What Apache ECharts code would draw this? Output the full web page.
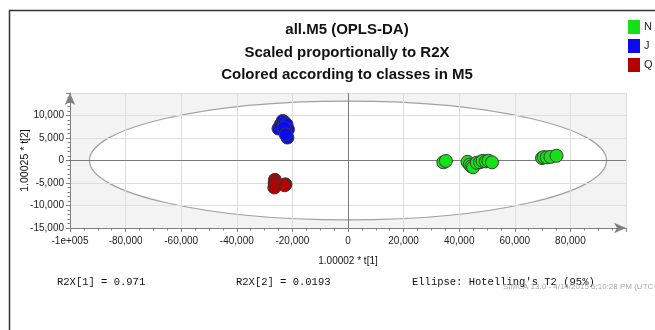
<!DOCTYPE html>
<html>
<head>
<meta charset="utf-8">
<script src="https://cdn.jsdelivr.net/npm/echarts@6/dist/echarts.min.js"></script>
<style>
html,body{margin:0;padding:0;background:#fff;}
#chart{width:655px;height:330px;}
</style>
</head>
<body>
<div id="chart"></div>
<script>
// class N (green)
var nX = [34300, 35200, 43000, 43800, 44400, 45000, 46300, 47500, 48400, 49600, 50500, 51800, 69800, 70400, 71500, 72800, 75000];
var nY = [-400, -100, -300, -900, -1300, -1500, -500, -400, -100, -200, -50, -400, 550, 750, 700, 800, 1050];
// class J (blue)
var jX = [-25000, -24300, -23500, -22800, -22100, -21600, -21800, -23000, -22400];
var jY = [7100, 7900, 8800, 8500, 8000, 6900, 5100, 7300, 5800];
// class Q (red)
var qX = [-26300, -26400, -26500, -22500, -22800];
var qY = [-4300, -5000, -6000, -5300, -5500];

// Hotelling's T2 ellipse: centre x, centre y, half width, half height
var ellipse = [0, 0, 93000, 13200];

var xTicks = [-100000, -80000, -60000, -40000, -20000, 0, 20000, 40000, 60000, 80000];
var yTicks = [-15000, -10000, -5000, 0, 5000, 10000];

var titleLines = ['all.M5 (OPLS-DA)', 'Scaled proportionally to R2X', 'Colored according to classes in M5'];

var dom = document.getElementById('chart');
var myChart = echarts.init(dom);

function pairs(xs, ys) {
    var out = [];
    for (var i = 0; i < xs.length; i++) {
        out.push([xs[i], ys[i]]);
    }
    return out;
}

function fmtNum(v) {
    if (v === -100000) return '-1e+005';
    return Math.round(v).toLocaleString('en-US');
}

var pointStyle = function (c) {
    return { color: c, opacity: 1, borderColor: '#3a3a3a', borderWidth: 1 };
};

var graphics = [
    { type: 'rect', shape: { x: 9.5, y: 10.5, width: 700, height: 400 }, style: { fill: 'none', stroke: '#333', lineWidth: 1.5 }, silent: true }
];
for (var t = 0; t < titleLines.length; t++) {
    graphics.push({
        type: 'text', x: 347, y: 30 + t * 22.5,
        style: { text: titleLines[t], fontFamily: 'Liberation Sans', fontWeight: 'bold', fontSize: 15, fill: '#111', align: 'center', verticalAlign: 'middle' }
    });
}
var monoStyle = { fontFamily: 'Liberation Mono', fontSize: 10.5, fill: '#111', verticalAlign: 'middle' };
graphics.push({ type: 'text', x: 57, y: 282, style: Object.assign({ text: 'R2X[1] = 0.971' }, monoStyle) });
graphics.push({ type: 'text', x: 236, y: 282, style: Object.assign({ text: 'R2X[2] = 0.0193' }, monoStyle) });
graphics.push({ type: 'text', x: 412, y: 282, style: Object.assign({ text: "Ellipse: Hotelling's T2 (95%)" }, monoStyle) });
graphics.push({ type: 'text', x: 503, y: 287, style: { text: 'SIMCA 13.0 - 4/14/2015 5:10:28 PM (UTC+8)', fontFamily: 'Liberation Sans', fontSize: 8, fill: '#aaa', verticalAlign: 'middle' } });

var option = {
    animation: false,
    textStyle: { fontFamily: 'Liberation Sans' },
    graphic: graphics,
    legend: {
        orient: 'vertical',
        left: 628,
        top: 20,
        padding: 0,
        itemWidth: 12,
        itemHeight: 14,
        itemGap: 5,
        icon: 'rect',
        itemStyle: { borderWidth: 0, opacity: 1 },
        textStyle: { fontSize: 11, color: '#222', padding: [0, 0, 0, -1] },
        data: ['N', 'J', 'Q']
    },
    grid: { left: 70, right: 29, top: 93, bottom: 102 },
    xAxis: {
        type: 'value',
        min: -100000,
        max: 100000,
        interval: 20000,
        name: '1.00002 * t[1]',
        nameLocation: 'middle',
        nameGap: 28,
        nameMoveOverlap: false,
        nameTextStyle: { fontSize: 10, color: '#111' },
        axisLine: { onZero: false, lineStyle: { color: '#808080' }, symbol: ['none', 'arrow'], symbolSize: [8, 12] },
        axisTick: { length: 4, lineStyle: { color: '#808080' } },
        minorTick: { show: true, splitNumber: 4, length: 2.5, lineStyle: { color: '#808080' } },
        axisLabel: {
            fontSize: 10, color: '#222', margin: 8,
            formatter: function (v) { return xTicks.indexOf(v) >= 0 ? fmtNum(v) : ''; }
        },
        splitLine: { show: true, lineStyle: { color: '#dedede' } }
    },
    yAxis: {
        type: 'value',
        min: -15000,
        max: 15000,
        interval: 5000,
        name: '1.00025 * t[2]',
        nameLocation: 'middle',
        nameGap: 39,
        nameMoveOverlap: false,
        nameTextStyle: { fontSize: 10.5, color: '#111' },
        axisLine: { onZero: false, lineStyle: { color: '#808080' }, symbol: ['none', 'arrow'], symbolSize: [8, 12] },
        axisTick: { length: 4, lineStyle: { color: '#808080' } },
        minorTick: { show: true, splitNumber: 5, length: 2.5, lineStyle: { color: '#808080' } },
        axisLabel: {
            fontSize: 10, color: '#222', margin: 6,
            formatter: function (v) { return yTicks.indexOf(v) >= 0 ? fmtNum(v) : ''; }
        },
        splitLine: { show: true, lineStyle: { color: '#dedede' } }
    },
    series: [
        {
            name: 'ellipse',
            type: 'custom',
            z: -1,
            silent: true,
            data: [ellipse],
            renderItem: function (params, api) {
                var c = api.coord([api.value(0), api.value(1)]);
                var s = api.size([api.value(2), api.value(3)]);
                var cs = params.coordSys;
                return {
                    type: 'group',
                    children: [
                        { type: 'rect', shape: { x: cs.x, y: cs.y, width: cs.width, height: cs.height }, style: { fill: '#f3f3f3' } },
                        { type: 'ellipse', shape: { cx: c[0], cy: c[1], rx: s[0], ry: s[1] }, style: { fill: '#fff', stroke: '#a0a0a0', lineWidth: 1.2 } }
                    ]
                };
            }
        },
        {
            name: 'N',
            type: 'scatter',
            z: 10,
            symbolSize: 13,
            itemStyle: pointStyle('#16e016'),
            data: pairs(nX, nY),
            markLine: {
                silent: true,
                symbol: 'none',
                label: { show: false },
                lineStyle: { color: '#7a7a7a', width: 1, type: 'solid' },
                data: [{ xAxis: 0 }, { yAxis: 0 }]
            }
        },
        {
            name: 'J',
            type: 'scatter',
            z: 10,
            symbolSize: 13,
            itemStyle: pointStyle('#0a0af5'),
            data: pairs(jX, jY)
        },
        {
            name: 'Q',
            type: 'scatter',
            z: 10,
            symbolSize: 13,
            itemStyle: pointStyle('#b30000'),
            data: pairs(qX, qY)
        }
    ]
};

if (option && typeof option === 'object') {
    myChart.setOption(option);
}
</script>
</body>
</html>
